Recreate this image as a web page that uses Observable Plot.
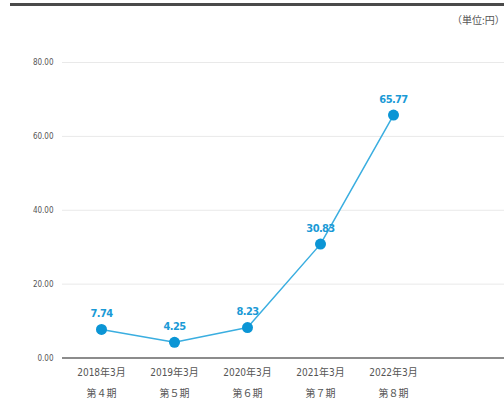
<!DOCTYPE html>
<html><head><meta charset="utf-8">
<script src="https://cdn.jsdelivr.net/npm/d3@7"></script>
<script src="https://cdn.jsdelivr.net/npm/@observablehq/plot@0.6"></script>
<style>
html,body{margin:0;padding:0;background:#fff;width:504px;height:405px;overflow:hidden;position:relative;}
#topline{position:absolute;left:10px;top:3px;width:494px;height:3px;background:#4a4a4a;}
#unit{position:absolute;left:452px;top:12px;font:10px "Noto Sans CJK JP",sans-serif;color:#555;white-space:nowrap;}
#chart{position:absolute;left:0;top:0;}
svg text{font-stretch:condensed;}
.vlab text{letter-spacing:-0.6px;}
</style></head>
<body>
<div id="chart"></div>
<div id="topline"></div>
<div id="unit">（単位:円）</div>
<script>
const categories = ["2018年3月","2019年3月","2020年3月","2021年3月","2022年3月"];
const periods = ["第４期","第５期","第６期","第７期","第８期"];
const values = [7.74, 4.25, 8.23, 30.83, 65.77];
const yTicks = [0, 20, 40, 60, 80];

const data = categories.map((c,i)=>({cat:c, period:periods[i], v:values[i]}));
const narrow = '"DejaVu Sans Condensed","DejaVu Sans","Noto Sans CJK JP",sans-serif';

const chart = Plot.plot({
  width: 504, height: 405,
  marginLeft: 62, marginRight: 0, marginTop: 62, marginBottom: 47.5,
  style: {fontFamily: narrow, background: "transparent"},
  x: {type: "point", domain: categories, range: [100, 393], padding: 0, axis: null, label: null},
  y: {domain: [0, 80], axis: null, label: null},
  marks: [
    Plot.ruleY(yTicks.filter(d=>d>0), {stroke: "#e9e9e9", strokeWidth: 1}),
    Plot.ruleY([0], {stroke: "#666", strokeWidth: 1.5}),
    Plot.axisY(yTicks, {tickSize: 0, tickPadding: 9, fontSize: 8, fill: "#555", label: null,
      tickFormat: d => d.toFixed(2)}),
    Plot.axisX({tickSize: 0, tickPadding: 3, fontSize: 10, fill: "#555", lineHeight: 2.1, label: null,
      tickFormat: (d) => d + "\n" + periods[categories.indexOf(d)]}),
    Plot.line(data, {x: "cat", y: "v", stroke: "#3aaee0", strokeWidth: 1.5}),
    Plot.dot(data, {x: "cat", y: "v", r: 5.5, fill: "#0b95d5"}),
    Plot.text(data, {x: "cat", y: "v", text: d => d.v.toFixed(2), dy: -16, fill: "#1a9ad6",
      fontSize: 11, fontWeight: "bold", className: "vlab"})
  ]
});
document.getElementById("chart").appendChild(chart);
</script>
</body></html>
